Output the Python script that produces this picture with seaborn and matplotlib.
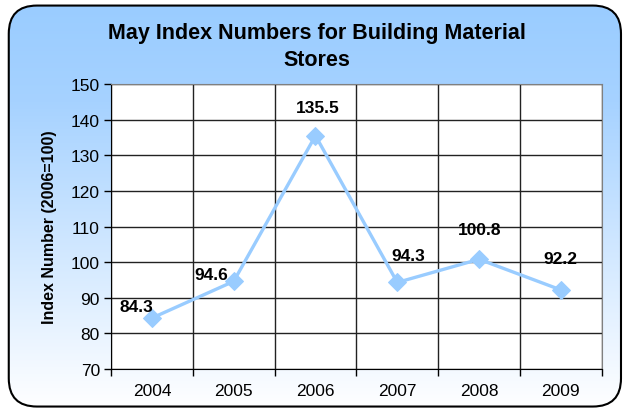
import numpy as np
import pandas as pd
import seaborn as sns
import matplotlib
matplotlib.use('Agg')
import matplotlib.pyplot as plt
from matplotlib.patches import FancyBboxPatch
from matplotlib.colors import LinearSegmentedColormap

years = ['2004', '2005', '2006', '2007', '2008', '2009']
values = [84.3, 94.6, 135.5, 94.3, 100.8, 92.2]

# where each data label sits relative to its marker (pixels)
label_dx = [-16, -22, 2, 11, 1, -1]
label_dy = [12, 7, 28, 27, 30, 31]

sns.set_style('white')
plt.rcParams['font.family'] = ['Liberation Sans', 'DejaVu Sans']

fig = plt.figure(figsize=(6.26, 4.10), dpi=100)

# gradient background inside rounded frame
bg = fig.add_axes([0, 0, 1, 1], zorder=0)
bg.set_xlim(0, 1)
bg.set_ylim(0, 1)
bg.axis('off')
cmap = LinearSegmentedColormap.from_list('bgfade', [(0, '#ffffff'), (0.75, '#a6d2ff'), (1, '#99ccff')])
grad = np.linspace(0, 1, 256).reshape(-1, 1)
img = bg.imshow(grad, extent=[0, 1, 0, 1], origin='lower', aspect='auto', cmap=cmap)
frame = FancyBboxPatch((0.014, 0.006), 0.978, 0.978,
                       boxstyle='round,pad=0,rounding_size=0.045',
                       transform=bg.transAxes, facecolor='none',
                       edgecolor='black', linewidth=1.5, mutation_aspect=626/410)
bg.add_patch(frame)
img.set_clip_path(frame)

ax = fig.add_axes([0.1773, 0.0976, 0.784, 0.695], zorder=1)
df = pd.DataFrame({'x': np.arange(len(years)), 'value': values})
sns.lineplot(data=df, x='x', y='value', ax=ax, color='#99ccff', linewidth=2.4,
             marker='D', markersize=9, markeredgecolor='#99ccff')

ax.set_facecolor('white')
ax.set_xlim(-0.5, len(years) - 0.5)
ax.set_ylim(70, 150)
ax.set_yticks(np.arange(70, 151, 10))
ax.set_xticks(np.arange(len(years)))
ax.set_xticklabels(years)
ax.set_xticks(np.arange(-0.5, len(years)), minor=True)
ax.tick_params(axis='x', which='major', length=0, pad=10, labelsize=12.5, labelcolor='black')
ax.tick_params(axis='x', which='minor', length=5, width=1, direction='out', color='black', bottom=True)
ax.tick_params(axis='y', length=5, width=1, direction='out', color='black', labelsize=12.5,
               labelcolor='black', left=True, pad=3)
ax.grid(True, axis='y', color='#222222', linewidth=1)
ax.grid(True, axis='x', which='minor', color='#222222', linewidth=1)
ax.set_axisbelow(True)
for s in ['top', 'right']:
    ax.spines[s].set_color('#808080')
for s in ['left', 'bottom']:
    ax.spines[s].set_color('black')
ax.set_xlabel('')
ax.set_ylabel('Index Number (2006=100)', fontsize=11.5, fontweight='bold', labelpad=10, color='black')

for i, v in enumerate(values):
    ax.annotate(f'{v:.1f}', (i, v), xytext=(label_dx[i], label_dy[i]), textcoords='offset pixels',
                ha='center', va='center', fontsize=12.5, fontweight='bold', color='black')

fig.text(0.506, 0.885, 'May Index Numbers for Building Material\nStores', ha='center', va='center',
         fontsize=15.5, fontweight='bold', linespacing=1.4, color='black')

fig.savefig('out.png', dpi=100)
